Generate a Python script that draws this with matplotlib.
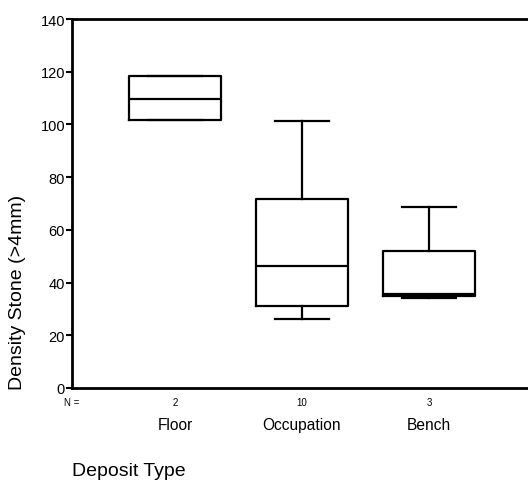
import matplotlib
matplotlib.use("Agg")
from matplotlib import pyplot as plt

plt.rcParams['font.family'] = ['Liberation Sans', 'DejaVu Sans']

# datos
categorias = ['Floor', 'Occupation', 'Bench']
n_casos = [2, 10, 3]
whisker_bajo = [101.5, 26.0, 34.2]
q1 = [101.5, 31.2, 35.0]
mediana = [109.7, 46.3, 35.6]
q3 = [118.5, 71.7, 52.1]
whisker_alto = [118.5, 101.3, 68.6]

stats = []
for i, cat in enumerate(categorias):
    stats.append({'label': cat, 'whislo': whisker_bajo[i], 'q1': q1[i], 'med': mediana[i],
                  'q3': q3[i], 'whishi': whisker_alto[i], 'fliers': []})

fig = plt.figure(figsize=(5.28, 4.85), dpi=100)
ax = fig.add_axes([72/528, 96/485, 1.02 - 72/528, 369/485])

pos = [1, 2, 3]
lw = 1.6
ax.bxp(stats, positions=pos, widths=0.73, showfliers=False,
       boxprops=dict(color='black', linewidth=lw),
       medianprops=dict(color='black', linewidth=lw),
       whiskerprops=dict(color='black', linewidth=lw),
       capprops=dict(color='black', linewidth=lw),
       capwidths=0.42)

# eje x: rango para que las cajas queden donde estan
ax.set_xlim(pos[0] - (175 - 72) / 127, pos[0] + (528 * 1.02 - 175) / 127)
ax.set_ylim(0, 140)
ax.set_yticks(range(0, 141, 20))
ax.tick_params(axis='y', direction='out', length=4, width=1.5, labelsize=10.5, pad=1)
ax.set_xticks([])
for s in ['left', 'bottom', 'top']:
    ax.spines[s].set_linewidth(2)
ax.spines['right'].set_visible(False)

# N = y etiquetas de categoria
ax.text(0.016, -0.038, 'N =', transform=ax.transAxes, ha='right', va='center', fontsize=7)
for p, n, c in zip(pos, n_casos, categorias):
    ax.text(p, -5.2, str(n), ha='center', va='center', fontsize=7)
    ax.text(p, -14, c, ha='center', va='center', fontsize=11.2)

ax.set_ylabel('Density Stone (>4mm)', fontsize=14)
ax.yaxis.set_label_coords(-45/456, 0.262)
fig.text(72/528, 5/485, 'Deposit Type', ha='left', va='bottom', fontsize=14)

fig.savefig('out.png', dpi=100)
